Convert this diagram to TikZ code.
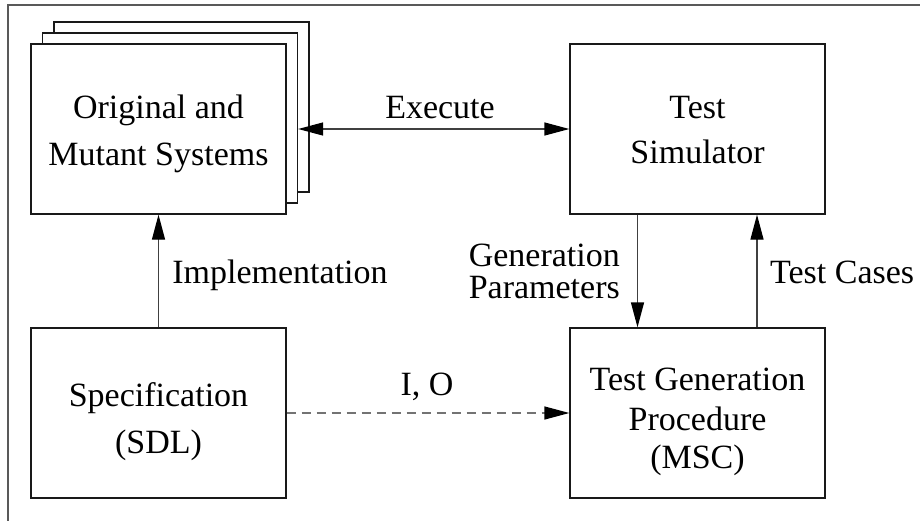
\documentclass[tikz,border=0pt]{standalone}
\usepackage{fontspec}
\setmainfont{Liberation Serif}
\usetikzlibrary{arrows.meta}
\begin{document}
\begin{tikzpicture}[x=1pt,y=-1pt,
  box/.style={draw=black!90,line width=1.3pt,fill=white,minimum width=255pt,minimum height=170pt,inner sep=0pt},
  txt/.style={inner sep=0pt,anchor=base,font=\fontsize{34}{40}\selectfont},
  tip/.style={-{Triangle[length=25pt,width=13pt,color=black]}},
  arr/.style={draw=black!75,line width=1.3pt,tip},
  arr2/.style={draw=black!75,line width=1.3pt,{Triangle[length=25pt,width=13pt,color=black]}-{Triangle[length=25pt,width=13pt,color=black]}},
  dasharr/.style={draw=black!55,line width=1.3pt,dash pattern=on 9pt off 6pt,tip},
  frame/.style={draw=black!65,line width=1.5pt}]
\useasboundingbox (0,0) rectangle (920,520);
\draw[frame] (8,525) -- (8,5) -- (925,5);
% stacked boxes
\node[box] (orig3) at (181.5,107) {};
\node[box] (orig2) at (170,118) {};
\node[box] (orig) at (158.5,129) {};
\node[box] (sim) at (697.5,129) {};
\node[box] (spec) at (158.5,413) {};
\node[box] (gen) at (697.5,413) {};
% texts in boxes
\node[txt] (o1) at (158.5,118) {Original and};
\node[txt] (o2) at (158.5,165) {Mutant Systems};
\node[txt] (s1) at (697.5,118) {Test};
\node[txt] (s2) at (697.5,163) {Simulator};
\node[txt] (p1) at (158.5,406) {Specification};
\node[txt] (p2) at (158.5,453) {(SDL)};
\node[txt] (g1) at (697.5,390) {Test Generation};
\node[txt] (g2) at (697.5,430) {Procedure};
\node[txt] (g3) at (697.5,468) {(MSC)};
% connectors
\draw[arr2] (orig2.east |- orig.east) -- (sim.west);
\draw[arr] (spec.north) -- (orig.south);
\draw[arr] ([xshift=-60pt]sim.south) -- ([xshift=-60pt]gen.north);
\draw[arr] ([xshift=59.5pt]gen.north) -- ([xshift=59.5pt]sim.south);
\draw[dasharr] (spec.east) -- (gen.west);
% labels
\node[txt] (lexe) at (440,118) {Execute};
\node[txt] (limp) at (280,283) {Implementation};
\node[txt,anchor=base east] (lgen1) at (620,266) {Generation};
\node[txt,anchor=base east] (lgen2) at (620,298) {Parameters};
\node[txt,anchor=base west] (ltc) at (770,283) {Test Cases};
\node[txt] (lio) at (427,395) {I, O};
\end{tikzpicture}
\end{document}
